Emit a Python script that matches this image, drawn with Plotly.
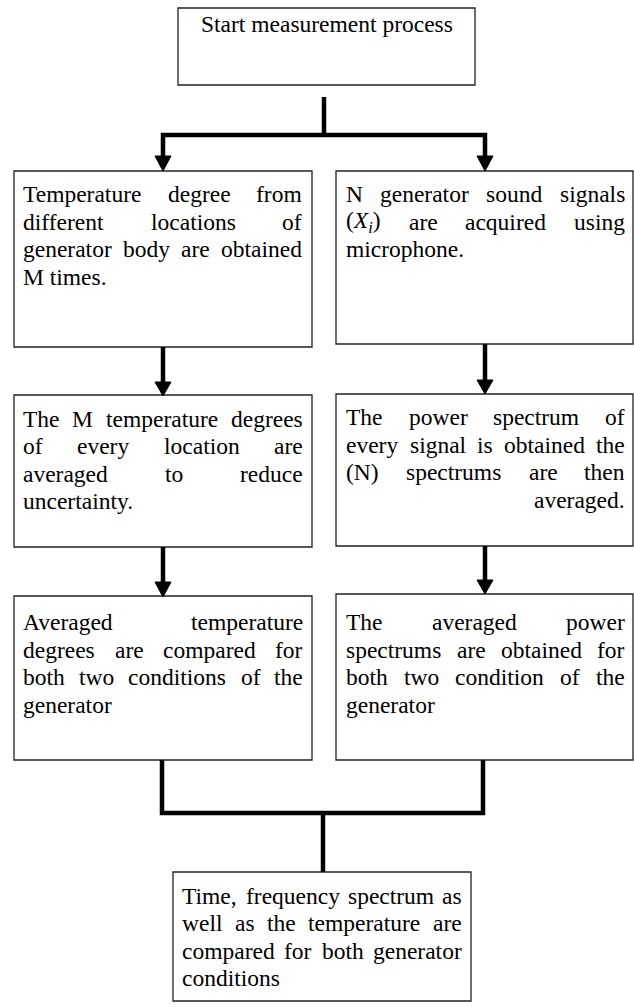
import plotly.graph_objects as go

# ---------------- content ----------------
start_text = ["Start measurement process"]
temp_step1 = ["Temperature degree from", "different locations of", "generator body are obtained", "M times."]
sound_step1 = ["N generator sound signals", "(<i>X</i><sub><i>i</i></sub>) are acquired using", "microphone."]
temp_step2 = ["The M temperature degrees", "of every location are", "averaged to reduce", "uncertainty."]
sound_step2 = ["The power spectrum of", "every signal is obtained the", "(N) spectrums are then", "averaged."]
temp_step3 = ["Averaged temperature", "degrees are compared for", "both two conditions of the", "generator"]
sound_step3 = ["The averaged power", "spectrums are obtained for", "both two condition of the", "generator"]
final_text = ["Time, frequency spectrum as", "well as the temperature are", "compared for both generator", "conditions"]

# ---------------- layout (pixel space) ----------------
W, H = 634, 1007
FS = 23.5
FONT = "Liberation Serif"

boxes = [
    # (lines, x0, x1, y0, y1, text_left, text_right, first_line_center, spacing, aligns)
    (start_text, 178, 475, 8, 85, 178, 475, 25, 28, ["center"]),
    (temp_step1, 14, 312, 171, 347, 23, 302, 195, 27.5, ["j", "j", "j", "l"]),
    (sound_step1, 336, 633, 171, 344, 346, 625, 195, 27.5, ["j", "j", "l"]),
    (temp_step2, 14, 312, 395, 547, 23, 303, 420, 27.4, ["j", "j", "j", "l"]),
    (sound_step2, 336, 633, 394, 546, 346, 625, 418, 27.6, ["j", "j", "j", "r"]),
    (temp_step3, 14, 312, 596, 760, 23, 303, 623, 27.5, ["j", "j", "j", "l"]),
    (sound_step3, 336, 633, 594, 760, 346, 625, 623, 27.5, ["j", "j", "j", "l"]),
    (final_text, 173, 471, 872, 1001, 182, 462, 897, 27.4, ["j", "j", "j", "l"]),
]

# Times / Liberation Serif advance widths (1/1000 em)
CW = {' ': 250, '(': 333, ')': 333, ',': 250, '.': 250, '-': 333,
      'A': 722, 'B': 667, 'C': 667, 'D': 722, 'E': 611, 'F': 556, 'G': 722, 'H': 722, 'I': 333,
      'J': 389, 'K': 722, 'L': 611, 'M': 889, 'N': 722, 'O': 722, 'P': 556, 'Q': 722, 'R': 667,
      'S': 556, 'T': 611, 'U': 722, 'V': 722, 'W': 944, 'X': 722, 'Y': 722, 'Z': 611,
      'a': 444, 'b': 500, 'c': 444, 'd': 500, 'e': 444, 'f': 333, 'g': 500, 'h': 500, 'i': 278,
      'j': 278, 'k': 500, 'l': 278, 'm': 778, 'n': 500, 'o': 500, 'p': 500, 'q': 500, 'r': 333,
      's': 389, 't': 278, 'u': 500, 'v': 500, 'w': 722, 'x': 500, 'y': 500, 'z': 444}


def word_width(w):
    if "<i>X</i>" in w:
        return (333 + 611 + 278 * 0.7 + 333) / 1000 * FS
    return sum(CW.get(c, 500) for c in w) / 1000 * FS


annotations = []


def add_text(txt, x, yc, anchor):
    annotations.append(dict(
        x=x, y=yc - 1, xref="x", yref="y", text=txt, showarrow=False,
        xanchor=anchor, yanchor="middle", borderpad=0, borderwidth=0,
        font=dict(family=FONT, size=FS, color="black")))


shapes = []
for lines, x0, x1, y0, y1, tl, tr, c0, sp, aligns in boxes:
    shapes.append(dict(type="rect", xref="x", yref="y", x0=x0, x1=x1, y0=y0, y1=y1,
                       line=dict(color="#222222", width=1.3), fillcolor="rgba(0,0,0,0)"))
    for i, line in enumerate(lines):
        yc = c0 + i * sp
        al = aligns[i]
        if al == "center":
            add_text(line, (x0 + x1) / 2, yc, "center")
        elif al == "l":
            add_text(line, tl, yc, "left")
        elif al == "r":
            add_text(line, tr, yc, "right")
        else:
            words = line.split(" ")
            widths = [word_width(w) for w in words]
            gap = (tr - tl - sum(widths)) / (len(words) - 1)
            xpos = tl
            for k, w in enumerate(words):
                if k == len(words) - 1:
                    add_text(w, tr, yc, "right")
                else:
                    add_text(w, xpos, yc, "left")
                xpos += widths[k] + gap

# connectors
LW = 4.5
paths = [
    "M 324 97 L 324 135",
    "M 163 157 L 163 135 L 485 135 L 485 157",
    "M 163 347 L 163 383",
    "M 485 344 L 485 382",
    "M 163 547 L 163 584",
    "M 485 546 L 485 582",
    "M 162 760 L 162 813 L 483 813 L 483 760",
    "M 323 813 L 323 872",
]
for p in paths:
    shapes.append(dict(type="path", xref="x", yref="y", path=p,
                       line=dict(color="black", width=LW)))

heads = [(163, 156, 171), (485, 156, 171), (163, 382, 396), (485, 380, 394),
         (163, 582, 597), (485, 580, 594)]
for x, ya, yb in heads:
    shapes.append(dict(type="path", xref="x", yref="y",
                       path=f"M {x-8} {ya} L {x+8} {ya} L {x} {yb} Z",
                       fillcolor="black", line=dict(color="black", width=1)))

fig = go.Figure()
fig.add_trace(go.Scatter(x=[0, W], y=[0, H], mode="markers", marker=dict(opacity=0),
                         hoverinfo="skip", showlegend=False))
fig.update_layout(
    width=W, height=H, autosize=False,
    margin=dict(l=0, r=0, t=0, b=0),
    paper_bgcolor="white", plot_bgcolor="white",
    xaxis=dict(range=[0, W], visible=False, fixedrange=True),
    yaxis=dict(range=[H, 0], visible=False, fixedrange=True),
    shapes=shapes, annotations=annotations, showlegend=False,
)
fig.write_html("out.html", config={"displayModeBar": False},
               post_script="document.body.style.margin='0px';document.body.style.overflow='hidden';")
